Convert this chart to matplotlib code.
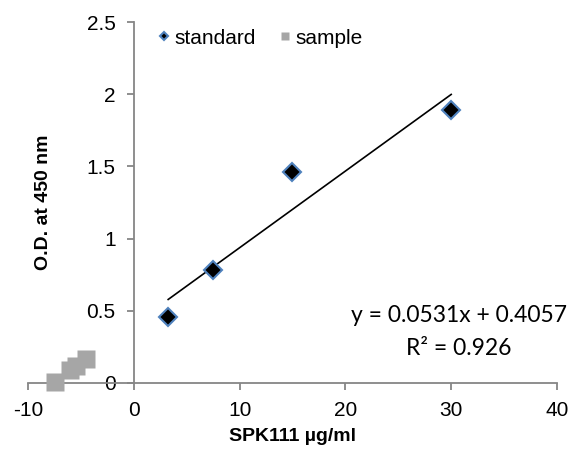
import matplotlib.pyplot as plt
import numpy as np

plt.rcParams['font.family'] = ['Liberation Sans', 'DejaVu Sans']
plt.rcParams['axes.unicode_minus'] = False

# standard curve points
std_conc = [3.25, 7.5, 15, 30]
std_od = [0.455, 0.785, 1.46, 1.89]

# sample points (plotted at negative x, as in the original sheet)
smp_conc = [-7.4, -6.0, -5.5, -4.5]
smp_od = [0.008, 0.09, 0.12, 0.165]

slope, intercept = 0.0531, 0.4057
fit_x = np.array([min(std_conc), max(std_conc)])

grey = '#868686'

fig = plt.figure(figsize=(5.71, 4.5), dpi=100)
ax = fig.add_axes([0.049, 0.149, 0.9265, 0.802])

ax.plot(std_conc, std_od, linestyle='none', marker='D', markersize=9.5,
        markerfacecolor='black', markeredgecolor='#4F81BD', markeredgewidth=1.5,
        label='standard', zorder=4)
ax.plot(smp_conc, smp_od, linestyle='none', marker='s', markersize=13,
        markerfacecolor='#A6A6A6', markeredgecolor='none', label='sample',
        clip_on=False, zorder=4)
ax.plot(fit_x, slope * fit_x + intercept, color='black', linewidth=1.2, zorder=3)

ax.set_xlim(-10, 40)
ax.set_ylim(0, 2.5)
ax.set_xticks([-10, 0, 10, 20, 30, 40])
ax.set_yticks([0, 0.5, 1, 1.5, 2, 2.5])
ax.set_yticklabels(['0', '0.5', '1', '1.5', '2', '2.5'])

ax.spines['top'].set_visible(False)
ax.spines['right'].set_visible(False)
ax.spines['left'].set_position(('data', 0))
for s in ['left', 'bottom']:
    ax.spines[s].set_color(grey)
    ax.spines[s].set_linewidth(1.3)
ax.tick_params(colors=grey, labelcolor='black', labelsize=15, length=5, width=1.3)
ax.tick_params(axis='x', pad=8)
ax.tick_params(axis='y', pad=8)

ax.set_xlabel('SPK111 µg/ml', fontsize=14, fontweight='bold')
ax.xaxis.set_label_coords(0.5, -0.125)
ax.set_ylabel('O.D. at 450 nm', fontsize=14, fontweight='bold')
ax.yaxis.set_label_coords(0.045, 0.5)

eq_font = ['Lato', 'DejaVu Sans']
ax.text(30.7, 0.47, 'y = 0.0531x + 0.4057', ha='center', va='center',
        fontsize=16.5, family=eq_font)
ax.text(30.7, 0.238, 'R² = 0.926', ha='center', va='center',
        fontsize=16.5, family=eq_font)

ax.legend(loc='center left', bbox_to_anchor=(0.21, 0.955), ncol=2, frameon=False,
          fontsize=15, markerscale=0.45, handlelength=0.6, handletextpad=0.2,
          columnspacing=1.1)

fig.savefig('out.png', dpi=100)
